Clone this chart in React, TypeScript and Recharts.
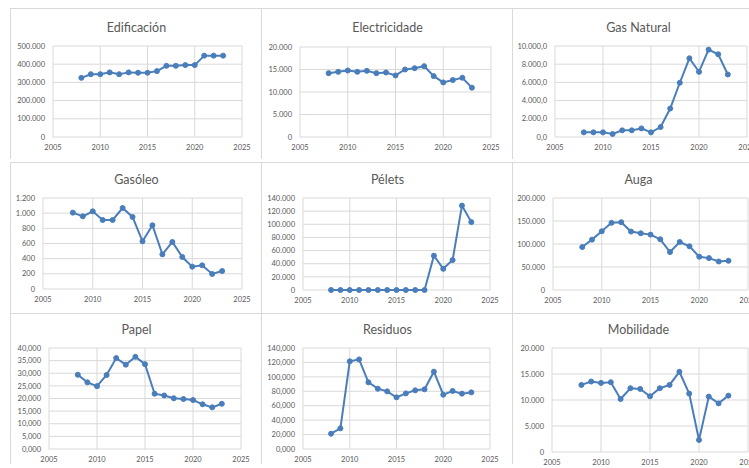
import React from 'react';
import { LineChart, Line, XAxis, YAxis, CartesianGrid } from 'recharts';

const years = [2008, 2009, 2010, 2011, 2012, 2013, 2014, 2015, 2016, 2017, 2018, 2019, 2020, 2021, 2022, 2023];
const xTicks = [2005, 2010, 2015, 2020, 2025];

const edificacion = [325000, 345000, 345000, 355000, 345000, 355000, 353000, 353000, 362000, 391000, 391000, 395000, 395000, 447000, 447000, 447000];
const electricidade = [14190, 14480, 14780, 14480, 14700, 14190, 14340, 13680, 15000, 15290, 15740, 13530, 12130, 12650, 13160, 10960];
const gasNatural = [510, 510, 510, 330, 730, 730, 945, 510, 1090, 3130, 5960, 8650, 7160, 9600, 9090, 6870];
const gasoleo = [1007, 958, 1024, 910, 910, 1068, 950, 629, 840, 457, 620, 422, 295, 312, 198, 237];
const pelets = [0, 0, 0, 0, 0, 0, 0, 0, 0, 0, 0, 52200, 32200, 45500, 128400, 103300];
const auga = [93400, 109500, 127700, 146000, 147400, 127000, 123400, 120400, 110200, 82500, 104400, 94900, 72300, 69300, 62000, 63500];
const papel = [29.4, 26.4, 24.9, 29.3, 36.0, 33.4, 36.5, 33.6, 21.9, 21.2, 20.1, 19.8, 19.4, 17.7, 16.5, 17.9];
const residuos = [21.2, 28.6, 121.5, 124.2, 92.4, 83.6, 79.9, 71.6, 77.1, 81.3, 82.7, 107.2, 75.3, 80.4, 76.7, 78.5];
const mobilidade = [12900, 13550, 13290, 13420, 10190, 12260, 12130, 10710, 12260, 12900, 15420, 11230, 2320, 10650, 9350, 10840];

const fmtNum = (v: number, dec: number) => {
  const [int, frac] = v.toFixed(dec).split('.');
  const withDots = int.replace(/\B(?=(\d{3})+(?!\d))/g, '.');
  return frac ? `${withDots},${frac}` : withDots;
};

const panels = [
  { title: 'Edificación', values: edificacion, max: 500000, step: 100000, dec: 0, cell: [10, 8], plot: { l: 53, r: 242, t: 46, b: 137 } },
  { title: 'Electricidade', values: electricidade, max: 20000, step: 5000, dec: 0, cell: [261, 8], plot: { l: 300, r: 491, t: 47, b: 137 } },
  { title: 'Gas Natural', values: gasNatural, max: 10000, step: 2000, dec: 1, cell: [512, 8], plot: { l: 555, r: 747, t: 46, b: 137 } },
  { title: 'Gasóleo', values: gasoleo, max: 1200, step: 200, dec: 0, cell: [10, 162], plot: { l: 43, r: 242, t: 198, b: 289 } },
  { title: 'Pélets', values: pelets, max: 140000, step: 20000, dec: 0, cell: [261, 162], plot: { l: 303, r: 490, t: 198, b: 290 } },
  { title: 'Auga', values: auga, max: 200000, step: 50000, dec: 0, cell: [512, 162], plot: { l: 553, r: 748, t: 198, b: 290 } },
  { title: 'Papel', values: papel, max: 40, step: 5, dec: 3, cell: [10, 313], plot: { l: 49, r: 241, t: 348, b: 449 } },
  { title: 'Residuos', values: residuos, max: 140, step: 20, dec: 3, cell: [261, 313], plot: { l: 303, r: 490, t: 348, b: 449 } },
  { title: 'Mobilidade', values: mobilidade, max: 20000, step: 5000, dec: 0, cell: [512, 313], plot: { l: 552, r: 748, t: 348, b: 452 } },
];

const CELL_W = 251;
const CELL_H = 151;
const LINE = '#4a7ebb';
const TEXT = '#595959';
const FONT = 'Lato, "Open Sans", sans-serif';

const Panel = ({ p }: { p: (typeof panels)[number] }) => {
  const [cx, cy] = p.cell;
  const data = years.map((year, i) => ({ year, v: p.values[i] }));
  const yTicks: number[] = [];
  for (let v = 0; v <= p.max + 1e-9; v += p.step) yTicks.push(v);
  const chartH = p.plot.b - cy + 24;
  return (
    <div
      style={{
        position: 'absolute',
        left: cx,
        top: cy,
        width: CELL_W,
        height: CELL_H,
        borderLeft: '1px solid #d9d9d9',
        borderTop: '1px solid #d9d9d9',
        boxSizing: 'border-box',
      }}
    >
      <div
        style={{
          position: 'absolute',
          left: 0,
          width: CELL_W,
          top: (cy === 8 ? 19 : cy === 162 ? 17 : 16) - 8,
          lineHeight: '16px',
          textAlign: 'center',
          fontSize: 12.5,
          color: TEXT,
          fontFamily: FONT,
        }}
      >
        {p.title}
      </div>
      <div style={{ position: 'absolute', left: -1, top: -1 }}>
        <LineChart
          width={CELL_W}
          height={chartH}
          data={data}
          margin={{ top: p.plot.t - cy, right: cx + CELL_W - p.plot.r, left: 0, bottom: 0 }}
        >
          <CartesianGrid stroke="#d9d9d9" strokeWidth={1} />
          <XAxis
            dataKey="year"
            type="number"
            domain={[2005, 2025]}
            ticks={xTicks}
            interval={0}
            height={24}
            axisLine={false}
            tickLine={false}
            tick={{ fill: TEXT, fontSize: 7.5, fontFamily: FONT }}
          />
          <YAxis
            type="number"
            domain={[0, p.max]}
            ticks={yTicks}
            interval={0}
            width={p.plot.l - cx}
            axisLine={false}
            tickLine={false}
            tickFormatter={(v: number) => fmtNum(v, p.dec)}
            tick={{ fill: TEXT, fontSize: 7.5, fontFamily: FONT }}
          />
          <Line
            type="linear"
            dataKey="v"
            stroke={LINE}
            strokeWidth={2}
            dot={{ r: 2.5, fill: LINE, stroke: LINE, strokeWidth: 1 }}
            isAnimationActive={false}
          />
        </LineChart>
      </div>
    </div>
  );
};

export default function App() {
  return (
    <div
      style={{
        position: 'absolute',
        left: 0,
        top: 0,
        width: 749,
        height: 468,
        background: '#ffffff',
        overflow: 'hidden',
      }}
    >
      {panels.map((p) => (
        <Panel key={p.title} p={p} />
      ))}
    </div>
  );
}
